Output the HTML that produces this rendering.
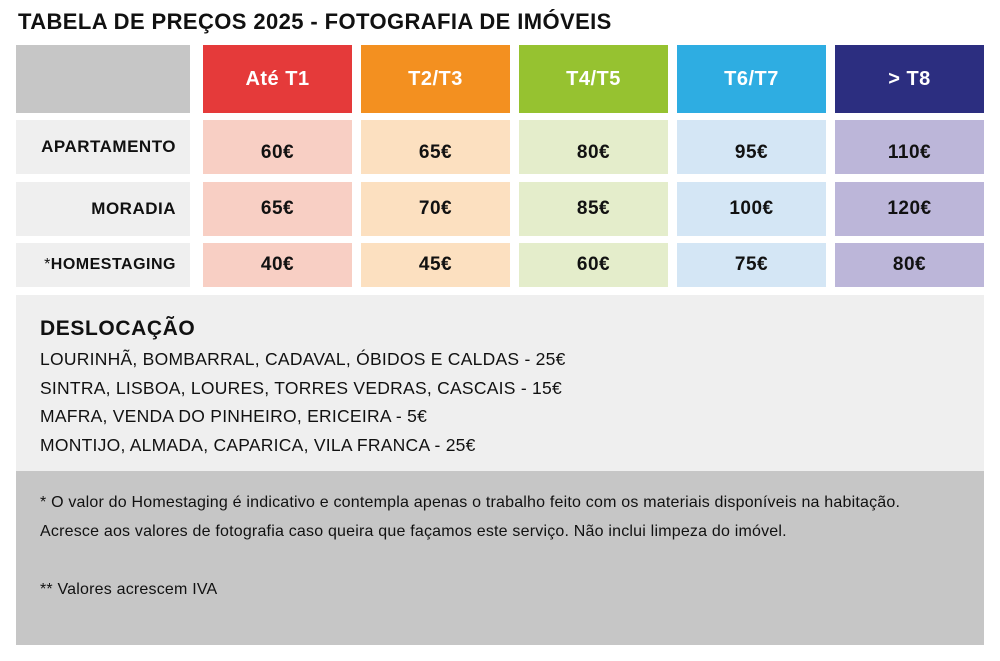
<!DOCTYPE html>
<html><head><meta charset="utf-8"><style>
body{margin:0;width:1000px;height:661px;background:#fff;position:relative;font-family:"Liberation Sans","DejaVu Sans",sans-serif;overflow:hidden}
div.b{position:absolute;display:flex;align-items:center;justify-content:center;font-weight:bold;font-size:19px;color:#111;letter-spacing:0.5px}
div.h{color:#fff;font-size:20px}
.t{position:absolute;white-space:nowrap}
</style></head><body>
<div class="t" style="left:18px;top:9px;font-size:22px;font-weight:bold;color:#111;letter-spacing:0.4px">TABELA DE PREÇOS 2025 - FOTOGRAFIA DE IMÓVEIS</div>

<div class="b" style="left:16px;top:45px;width:174px;height:68px;background:#c6c6c6"></div>
<div class="b h" style="left:203px;top:45px;width:149px;height:68px;background:#e53a3a">Até T1</div>
<div class="b h" style="left:361px;top:45px;width:149px;height:68px;background:#f39020">T2/T3</div>
<div class="b h" style="left:519px;top:45px;width:149px;height:68px;background:#96c230">T4/T5</div>
<div class="b h" style="left:677px;top:45px;width:149px;height:68px;background:#2eade2">T6/T7</div>
<div class="b h" style="left:835px;top:45px;width:149px;height:68px;background:#2c2e80">&gt; T8</div>

<div class="b" style="left:16px;top:120px;width:174px;height:54px;background:#efefef;font-size:17px;justify-content:flex-end;padding-right:14px;box-sizing:border-box">APARTAMENTO</div>
<div class="b" style="left:16px;top:182px;width:174px;height:54px;background:#efefef;font-size:17px;justify-content:flex-end;padding-right:14px;box-sizing:border-box">MORADIA</div>
<div class="b" style="left:16px;top:243px;width:174px;height:44px;background:#efefef;font-size:16px;justify-content:flex-end;padding-right:14px;box-sizing:border-box"><span style="font-weight:normal">*</span>HOMESTAGING</div>

<div class="b" style="left:203px;top:120px;width:149px;height:54px;background:#f8cfc4;padding-top:12px;box-sizing:border-box">60€</div>
<div class="b" style="left:361px;top:120px;width:149px;height:54px;background:#fce0c0;padding-top:12px;box-sizing:border-box">65€</div>
<div class="b" style="left:519px;top:120px;width:149px;height:54px;background:#e4edcb;padding-top:12px;box-sizing:border-box">80€</div>
<div class="b" style="left:677px;top:120px;width:149px;height:54px;background:#d4e6f5;padding-top:12px;box-sizing:border-box">95€</div>
<div class="b" style="left:835px;top:120px;width:149px;height:54px;background:#bcb6d9;padding-top:12px;box-sizing:border-box">110€</div>

<div class="b" style="left:203px;top:182px;width:149px;height:54px;background:#f8cfc4">65€</div>
<div class="b" style="left:361px;top:182px;width:149px;height:54px;background:#fce0c0">70€</div>
<div class="b" style="left:519px;top:182px;width:149px;height:54px;background:#e4edcb">85€</div>
<div class="b" style="left:677px;top:182px;width:149px;height:54px;background:#d4e6f5">100€</div>
<div class="b" style="left:835px;top:182px;width:149px;height:54px;background:#bcb6d9">120€</div>

<div class="b" style="left:203px;top:243px;width:149px;height:44px;background:#f8cfc4">40€</div>
<div class="b" style="left:361px;top:243px;width:149px;height:44px;background:#fce0c0">45€</div>
<div class="b" style="left:519px;top:243px;width:149px;height:44px;background:#e4edcb">60€</div>
<div class="b" style="left:677px;top:243px;width:149px;height:44px;background:#d4e6f5">75€</div>
<div class="b" style="left:835px;top:243px;width:149px;height:44px;background:#bcb6d9">80€</div>

<div style="position:absolute;left:16px;top:295px;width:968px;height:176px;background:#efefef"></div>
<div style="position:absolute;left:16px;top:471px;width:968px;height:174px;background:#c6c6c6"></div>

<div class="t" style="left:40px;top:317px;font-size:21px;font-weight:bold;color:#111;letter-spacing:0.6px">DESLOCAÇÃO</div>
<div class="t" style="left:40px;top:345px;font-size:17.5px;color:#111;line-height:28.5px;letter-spacing:0.25px">LOURINHÃ, BOMBARRAL, CADAVAL, ÓBIDOS E CALDAS - 25€<br>SINTRA, LISBOA, LOURES, TORRES VEDRAS, CASCAIS - 15€<br>MAFRA, VENDA DO PINHEIRO, ERICEIRA - 5€<br>MONTIJO, ALMADA, CAPARICA, VILA FRANCA - 25€</div>

<div class="t" style="left:40px;top:488px;font-size:16px;color:#111;line-height:29px;letter-spacing:0.2px">* O valor do Homestaging é indicativo e contempla apenas o trabalho feito com os materiais disponíveis na habitação.<br>Acresce aos valores de fotografia caso queira que façamos este serviço. Não inclui limpeza do imóvel.<br><br>** Valores acrescem IVA</div>
</body></html>
